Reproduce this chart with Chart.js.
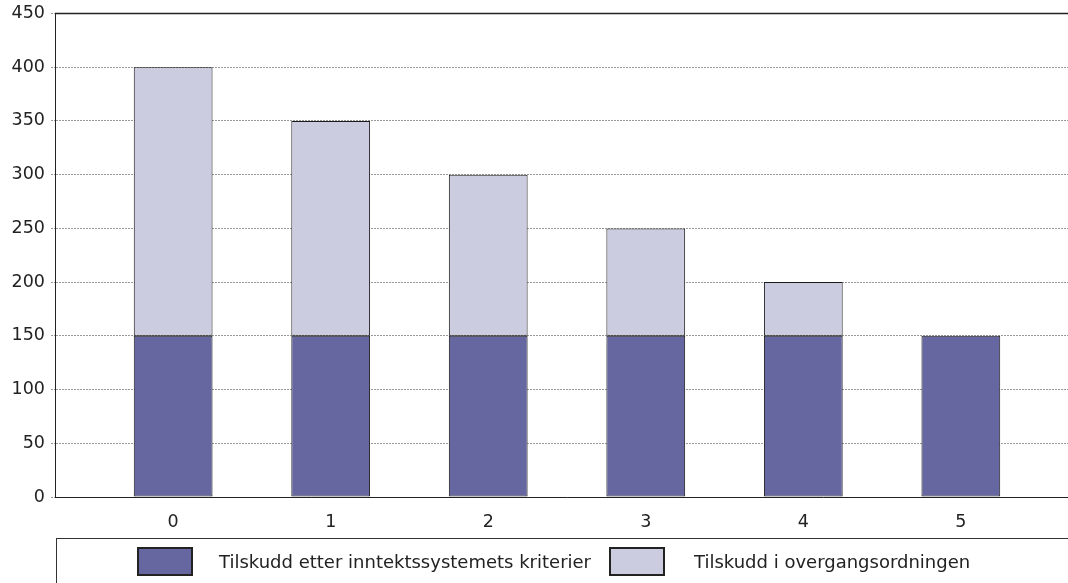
<!DOCTYPE html>
<html>
<head>
<meta charset="utf-8">
<script src="https://cdn.jsdelivr.net/npm/chart.js@4/dist/chart.umd.min.js"></script>
<style>
  html, body { margin:0; padding:0; background:#fff; overflow:hidden; }
  #wrap { position:relative; width:1068px; height:583px; overflow:hidden; }
  #inner { position:absolute; left:0; top:-3px; width:1080px; height:586px; }
  #legend {
    position:absolute; left:56px; top:538px; width:1100px; height:70px;
    border:1px solid #333; box-sizing:border-box;
    display:flex; align-items:flex-start; padding:8px 0 0 80px;
    font-family:"DejaVu Sans", sans-serif; font-size:18px; color:#222;
  }
  .lg-box { width:56px; height:29px; box-sizing:border-box; border:2px solid #222; flex:none; }
  .lg-text { line-height:29px; white-space:nowrap; }
</style>
</head>
<body>
<div id="wrap">
  <div id="inner"><canvas id="chart"></canvas></div>
  <div id="legend"></div>
</div>
<script>
// data
const categories = [0, 1, 2, 3, 4, 5];
const criteriaValues = [150, 150, 150, 150, 150, 150];
const transitionValues = [250, 200, 150, 100, 50, 0];
const yTicks = [0, 50, 100, 150, 200, 250, 300, 350, 400, 450];
const seriesNames = ['Tilskudd etter inntektssystemets kriterier', 'Tilskudd i overgangsordningen'];
const seriesColors = ['rgb(102,102,160)', 'rgb(204,204,224)'];

const fontFamily = '"DejaVu Sans", sans-serif';

// solid line along the top of the plot
const topLine = {
  id: 'topLine',
  afterDraw(chart) {
    const ctx = chart.ctx, a = chart.chartArea;
    ctx.save();
    ctx.strokeStyle = '#222';
    ctx.lineWidth = 1.5;
    ctx.beginPath();
    ctx.moveTo(a.left, a.top);
    ctx.lineTo(a.right, a.top);
    ctx.stroke();
    ctx.restore();
  }
};

function points(values) {
  return values.map((v, i) => ({ x: categories[i], y: v }));
}

new Chart(document.getElementById('chart'), {
  type: 'bar',
  data: {
    datasets: [
      {
        label: seriesNames[0],
        data: points(criteriaValues),
        backgroundColor: seriesColors[0],
        borderColor: '#1a1a1a',
        borderWidth: 1,
        borderSkipped: false,
        categoryPercentage: 0.5,
        barPercentage: 1
      },
      {
        label: seriesNames[1],
        data: points(transitionValues),
        backgroundColor: seriesColors[1],
        borderColor: '#1a1a1a',
        borderWidth: 1,
        borderSkipped: false,
        categoryPercentage: 0.5,
        barPercentage: 1
      }
    ]
  },
  options: {
    responsive: true,
    maintainAspectRatio: false,
    animation: false,
    layout: { padding: { top: 0, right: 1, left: 0, bottom: 0 } },
    plugins: { legend: { display: false }, tooltip: { enabled: false } },
    scales: {
      x: {
        type: 'linear',
        stacked: true,
        offset: false,
        min: categories[0] - 0.75,
        max: categories[categories.length - 1] + 0.75,
        afterBuildTicks: (scale) => {
          scale.ticks = categories.map(c => ({ value: c }));
        },
        afterFit: (scale) => { scale.height = 86; },
        grid: { display: false, drawTicks: false },
        border: { display: true, color: '#222', width: 1 },
        ticks: {
          stepSize: 1,
          padding: 15,
          color: '#222',
          font: { family: fontFamily, size: 17.5 },
          callback: (v) => v
        }
      },
      y: {
        stacked: true,
        min: yTicks[0],
        max: yTicks[yTicks.length - 1],
        afterBuildTicks: (scale) => {
          scale.ticks = yTicks.map(v => ({ value: v }));
        },
        afterFit: (scale) => { scale.width = 55; },
        grid: { color: '#999', lineWidth: 1, tickLength: 4, tickBorderDash: [2, 1] },
        border: { display: true, color: '#222', width: 1, dash: [2, 1] },
        ticks: {
          padding: 6,
          color: '#222',
          font: { family: fontFamily, size: 17.5 }
        }
      }
    }
  },
  plugins: [topLine]
});

// legend drawn as html under the plot
const legend = document.getElementById('legend');
seriesNames.forEach((name, i) => {
  const box = document.createElement('div');
  box.className = 'lg-box';
  box.style.background = seriesColors[i];
  box.style.marginLeft = i == 0 ? '0px' : '18px';
  const txt = document.createElement('div');
  txt.className = 'lg-text';
  txt.style.marginLeft = i == 0 ? '26px' : '29px';
  txt.textContent = name;
  legend.appendChild(box);
  legend.appendChild(txt);
});
</script>
</body>
</html>
